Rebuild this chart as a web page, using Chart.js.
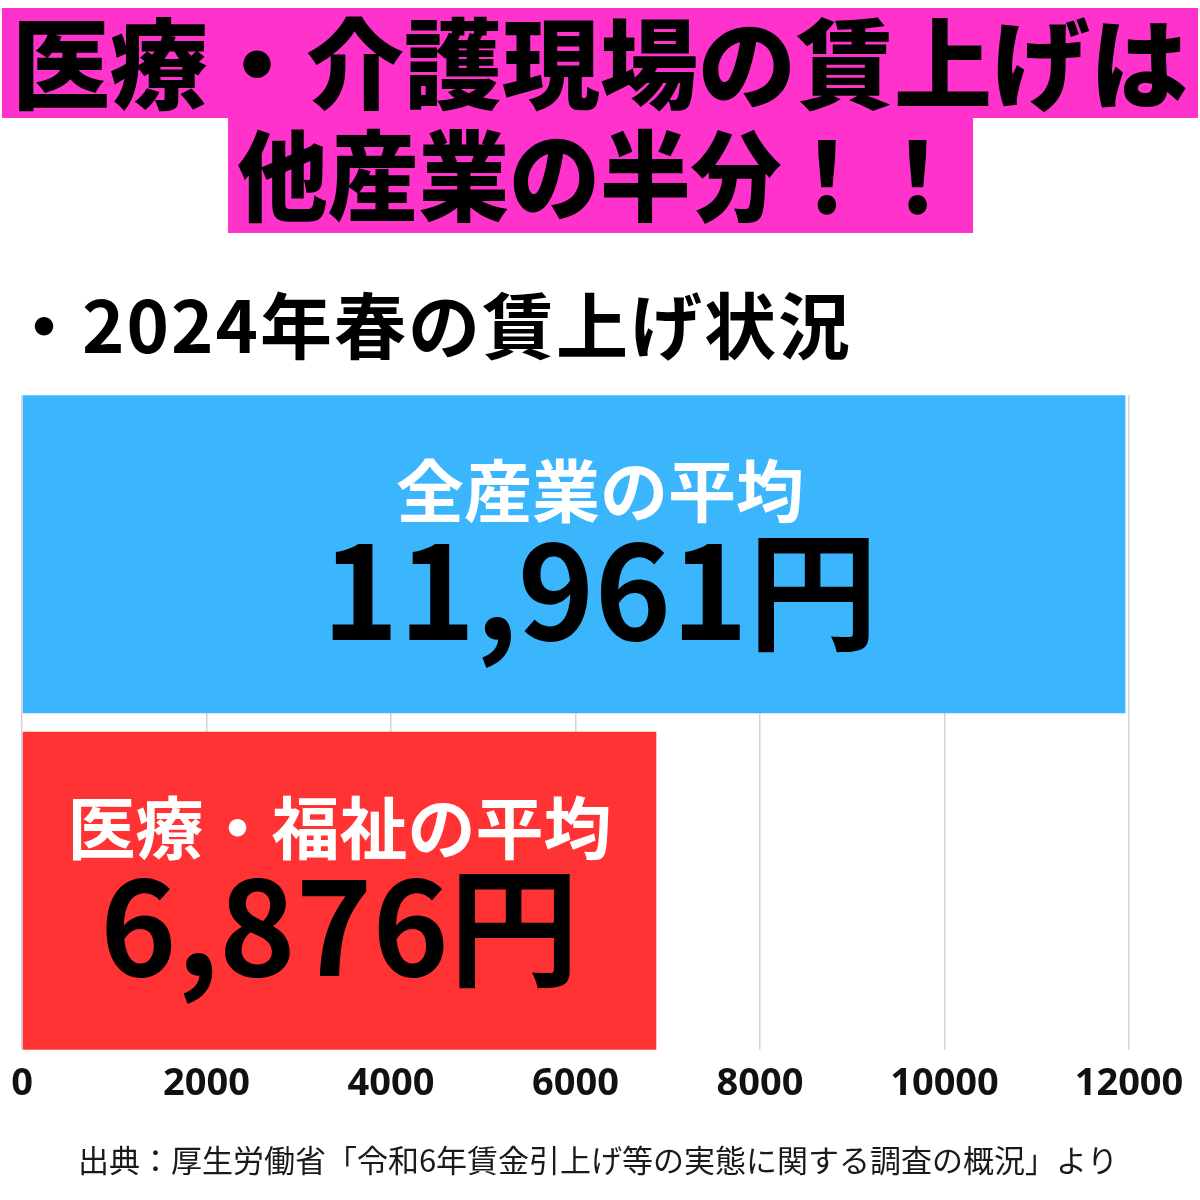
<!DOCTYPE html>
<html>
<head>
<meta charset="utf-8">
<script src="https://cdn.jsdelivr.net/npm/chart.js@4.4.1/dist/chart.umd.min.js"></script>
<style>
  html, body { margin: 0; padding: 0; background: #ffffff; }
  #wrap { width: 1200px; height: 1200px; }
</style>
</head>
<body>
<div id="wrap"><canvas id="c" width="1200" height="1200"></canvas></div>
<script>
// ---- data ----
const categories = ['全産業', '医療・福祉'];
const wageIncrease = [11961, 6876];
const barTitles = ['全産業の平均', '医療・福祉の平均'];
const barValueTexts = ['11,961円', '6,876円'];
const barColors = ['#3bb6fd', '#ff3333'];
const tickValues = [0, 2000, 4000, 6000, 8000, 10000, 12000];
const titleLines = ['医療・介護現場の賃上げは', '他産業の半分！！'];
const subtitleText = '・2024年春の賃上げ状況';
const sourceText = '出典：厚生労働省「令和6年賃金引上げ等の実態に関する調査の概況」より';

const CJK = "'Noto Sans CJK JP', 'Noto Sans', sans-serif";

const decorPlugin = {
  id: 'decor',
  beforeDraw(chart) {
    const ctx = chart.ctx;
    ctx.save();
    ctx.fillStyle = '#ffffff';
    ctx.fillRect(0, 0, chart.width, chart.height);
    // magenta title boxes
    ctx.fillStyle = '#ff33cc';
    ctx.fillRect(2, 8, 1196, 110);
    ctx.fillRect(228, 116, 745, 117);
    ctx.fillStyle = '#000000';
    ctx.textAlign = 'center';
    ctx.textBaseline = 'middle';
    ctx.font = '900 98px ' + CJK;
    ctx.fillText(titleLines[0], 600, 64, 1180);
    ctx.fillText(titleLines[1], 600, 176, 726);
    // subtitle
    ctx.textAlign = 'left';
    ctx.font = '700 72px ' + CJK;
    ctx.letterSpacing = '2px';
    ctx.fillStyle = '#000000';
    ctx.fillText(subtitleText, 8, 326);
    ctx.letterSpacing = '0px';
    // source
    ctx.textAlign = 'center';
    ctx.font = '400 31px ' + CJK;
    ctx.fillStyle = '#1a1a1a';
    ctx.fillText(sourceText, 598, 1160);
    ctx.restore();
  },
  beforeDatasetsDraw(chart) {
    // trim grid lines so they span only from the first bar's top to the last bar's bottom
    const ctx = chart.ctx;
    const area = chart.chartArea;
    const bars = chart.getDatasetMeta(0).data;
    if (!bars.length) return;
    const first = bars[0].getProps(['y', 'height'], true);
    const last = bars[bars.length - 1].getProps(['y', 'height'], true);
    ctx.save();
    ctx.fillStyle = '#ffffff';
    const topEdge = first.y - first.height / 2;
    const botEdge = last.y + last.height / 2;
    ctx.fillRect(area.left - 2, area.top - 1, area.right - area.left + 4, topEdge - area.top + 1);
    ctx.fillRect(area.left - 2, botEdge, area.right - area.left + 4, area.bottom - botEdge + 1);
    ctx.restore();
  },
  afterDatasetsDraw(chart) {
    const ctx = chart.ctx;
    const meta = chart.getDatasetMeta(0);
    ctx.save();
    ctx.textAlign = 'center';
    ctx.textBaseline = 'middle';
    meta.data.forEach((bar, i) => {
      const p = bar.getProps(['x', 'y', 'base'], true);
      const cx = i === 0 ? chart.width / 2 : (p.x + p.base) / 2;
      ctx.fillStyle = '#ffffff';
      ctx.font = '700 68px ' + CJK;
      ctx.fillText(barTitles[i], cx, p.y - 63);
      ctx.fillStyle = '#000000';
      ctx.font = '700 130px ' + CJK;
      ctx.fillText(barValueTexts[i], cx, p.y + 36);
    });
    ctx.restore();
  }
};

new Chart(document.getElementById('c'), {
  type: 'bar',
  data: {
    labels: categories,
    datasets: [{
      data: wageIncrease,
      backgroundColor: barColors,
      borderWidth: 0,
      barPercentage: 0.945,
      categoryPercentage: 1.0
    }]
  },
  options: {
    indexAxis: 'y',
    responsive: false,
    animation: false,
    layout: { padding: { top: 386, left: 22, right: 71, bottom: 0 } },
    plugins: {
      legend: { display: false },
      title: { display: false },
      tooltip: { enabled: false }
    },
    scales: {
      x: {
        min: 0,
        max: 12000,
        afterBuildTicks(scale) { scale.ticks = tickValues.map(v => ({ value: v })); },
        afterFit(scale) { scale.height = 141; },
        grid: { color: '#d4d4d4', lineWidth: 1.5, drawTicks: false },
        border: { display: false },
        ticks: {
          padding: 2,
          color: '#111111',
          font: { family: "'Noto Sans', 'Open Sans', sans-serif", size: 38, weight: '700' },
          maxRotation: 0,
          autoSkip: false,
          callback: (v) => String(v)
        }
      },
      y: { display: false }
    }
  },
  plugins: [decorPlugin]
});
</script>
</body>
</html>
